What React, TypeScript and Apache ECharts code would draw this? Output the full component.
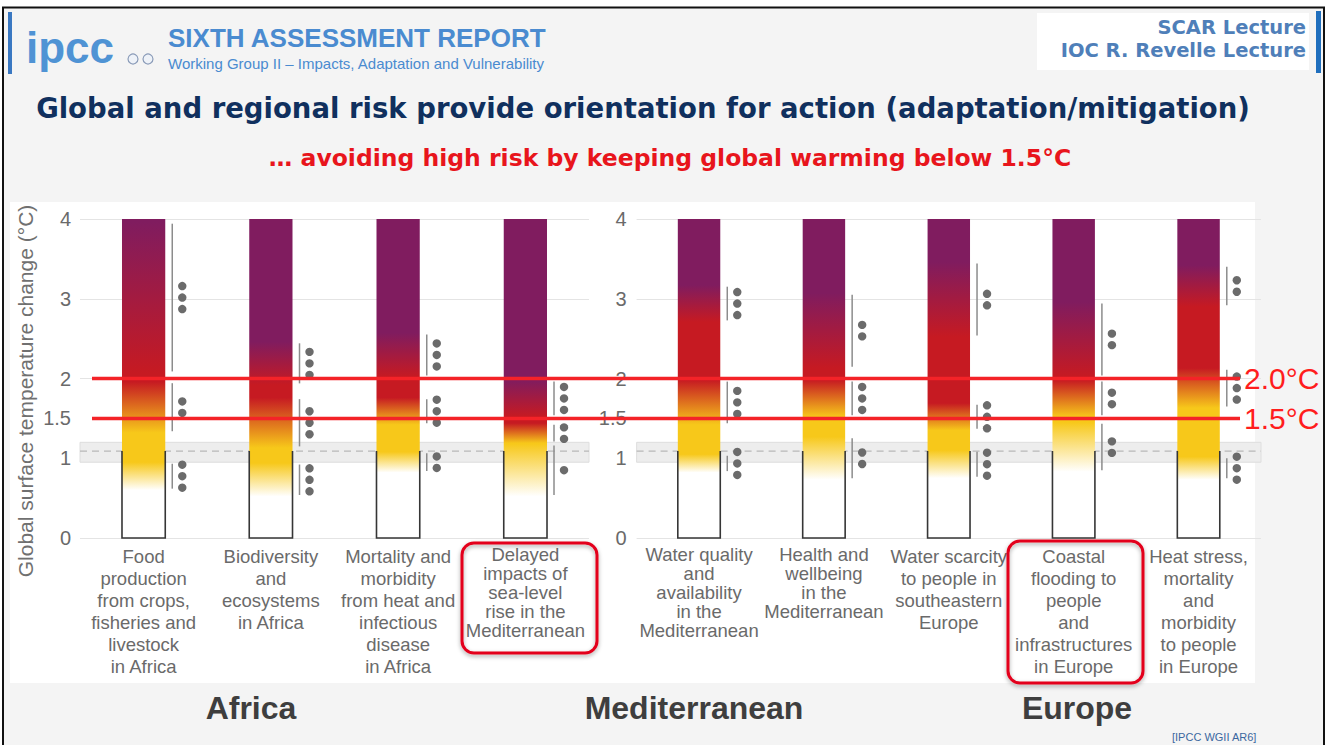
import React, { useEffect, useRef } from 'react';
import * as echarts from 'echarts';

// ---------- data ----------
const africaMedCategories = [
  'Food\nproduction\nfrom crops,\nfisheries and\nlivestock\nin Africa',
  'Biodiversity\nand\necosystems\nin Africa',
  'Mortality and\nmorbidity\nfrom heat and\ninfectious\ndisease\nin Africa',
  'Delayed\nimpacts of\nsea-level\nrise in the\nMediterranean',
];
const medEuropeCategories = [
  'Water quality\nand\navailability\nin the\nMediterranean',
  'Health and\nwellbeing\nin the\nMediterranean',
  'Water scarcity\nto people in\nsoutheastern\nEurope',
  'Coastal\nflooding to\npeople\nand\ninfrastructures\nin Europe',
  'Heat stress,\nmortality\nand\nmorbidity\nto people\nin Europe',
];
const compactLabelsLeft = [3];
const compactLabelsRight = [0, 1];

// ember transitions (°C) for the 9 key risks, in order: [start, end]
const moderateRange = [[0.6, 0.95], [0.52, 0.94], [0.82, 1.08], [0.52, 1.18], [0.82, 1.05], [0.73, 1.27], [0.75, 1.1], [0.83, 1.45], [0.73, 1.02]];
const highRange = [[1.32, 1.96], [1.13, 1.76], [1.42, 1.76], [1.19, 1.44], [1.42, 1.98], [1.52, 1.98], [1.35, 1.69], [1.52, 1.98], [1.63, 2.13]];
const veryHighRange = [[2.07, 3.96], [1.92, 2.46], [2.02, 2.57], [1.52, 1.98], [2.71, 3.17], [2.13, 3.07], [2.52, 3.46], [2.02, 2.96], [2.9, 3.42]];
// confidence dots for each transition: [moderate, high, very high]
const confidenceDots = [[3, 2, 3], [3, 3, 3], [2, 3, 3], [1, 2, 3], [3, 3, 3], [2, 3, 2], [3, 3, 2], [2, 2, 2], [3, 3, 2]];
const emberTop = 4;
const observedWarming = 1.09;
const observedRange = [0.95, 1.2];
const thresholds = [2.0, 1.5];
const thresholdLabels = ['2.0°C', '1.5°C'];
const yTickLabels = [0, 1, 1.5, 2, 3, 4];
const regionLabels = ['Africa', 'Mediterranean', 'Europe'];

// ---------- styles ----------
const PURPLE = '#801c5f';
const RED = '#c61a22';
const YELLOW = '#f7c81a';
const SANS = '"Liberation Sans", Arial, sans-serif';
const DEJAVU = '"DejaVu Sans", sans-serif';
const LABEL_GRAY = '#6a6a6a';

function emberData(offset: number, count: number) {
  const out: number[][] = [];
  for (let k = 0; k < count; k++) {
    const g = offset + k;
    out.push([
      k,
      moderateRange[g][0], moderateRange[g][1],
      highRange[g][0], highRange[g][1],
      veryHighRange[g][0], veryHighRange[g][1],
      emberTop,
      confidenceDots[g][0], confidenceDots[g][1], confidenceDots[g][2],
    ]);
  }
  return out;
}

function renderEmber(params: any, api: any) {
  const i = api.value(0);
  const m0 = api.value(1), m1 = api.value(2), h0 = api.value(3), h1 = api.value(4);
  const v0 = api.value(5), v1 = api.value(6), top = api.value(7);
  const conf = [api.value(8), api.value(9), api.value(10)];
  const xc = api.coord([i, 0])[0];
  const bw = api.size([1, 0])[0] * 0.34;
  const xl = xc - bw / 2;
  const xr = xc + bw / 2;
  const py = (v: number) => api.coord([i, v])[1];
  const yTop = py(top);
  const yBot = py(m0);
  const off = (v: number) => Math.min(1, Math.max(0, (top - v) / (top - m0)));
  const fill = new echarts.graphic.LinearGradient(0, 0, 0, 1, [
    { offset: 0, color: PURPLE },
    { offset: off(v1), color: PURPLE },
    { offset: off(v0), color: RED },
    { offset: off(h1), color: RED },
    { offset: off(h0), color: YELLOW },
    { offset: off(m1), color: YELLOW },
    { offset: 1, color: '#ffffff' },
  ]);
  const children: any[] = [
    { type: 'rect', shape: { x: xl, y: yTop, width: bw, height: yBot - yTop }, style: { fill } },
    {
      type: 'polyline',
      shape: { points: [[xl, py(observedWarming)], [xl, py(0)], [xr, py(0)], [xr, py(observedWarming)]] },
      style: { fill: 'none', stroke: '#363636', lineWidth: 1.6 },
    },
  ];
  const ranges = [[m0, m1], [h0, h1], [v0, v1]];
  const lx = xr + 7;
  ranges.forEach((r, k) => {
    children.push({
      type: 'line',
      shape: { x1: lx, y1: py(r[0]) - 1.5, x2: lx, y2: py(r[1]) + 1.5 },
      style: { stroke: '#8c8c8c', lineWidth: 1.5 },
    });
    const n = conf[k];
    const yc = py((r[0] + r[1]) / 2);
    for (let d = 0; d < n; d++) {
      children.push({
        type: 'circle',
        shape: { cx: lx + 10, cy: yc + (d - (n - 1) / 2) * 11.5, r: 4.2 },
        style: { fill: '#6b6b6b' },
      });
    }
  });
  return { type: 'group', children };
}

function renderBand(params: any, api: any) {
  const cs = params.coordSys;
  const yc = api.coord([0, api.value(1)])[1];
  const ylo = api.coord([0, api.value(2)])[1];
  const yhi = api.coord([0, api.value(3)])[1];
  return {
    type: 'group',
    children: [
      { type: 'rect', shape: { x: cs.x, y: yhi, width: cs.width, height: ylo - yhi }, style: { fill: '#ededed', stroke: '#dedede', lineWidth: 1 } },
      { type: 'line', shape: { x1: cs.x, y1: yc, x2: cs.x + cs.width, y2: yc }, style: { stroke: '#b8b8b8', lineWidth: 1.3, lineDash: [7, 5] } },
    ],
  };
}

function xAxisFor(gridIndex: number, data: string[], compact: number[]) {
  return {
    type: 'category',
    gridIndex,
    data,
    axisLine: { show: false },
    axisTick: { show: false },
    splitLine: { show: false },
    axisLabel: {
      interval: 0,
      margin: 7,
      color: LABEL_GRAY,
      fontFamily: SANS,
      fontSize: 18.5,
      lineHeight: 22,
      formatter: (value: string, index: number) => (compact.includes(index) ? `{t|${value}}` : value),
      rich: { t: { lineHeight: 19, fontSize: 18.5, fontFamily: SANS, color: LABEL_GRAY } },
    },
  };
}

function yAxisFor(gridIndex: number, margin: number) {
  return {
    type: 'value',
    gridIndex,
    min: 0,
    max: 4,
    interval: 0.5,
    axisLine: { show: false },
    axisTick: { show: false },
    axisLabel: {
      margin,
      color: LABEL_GRAY,
      fontFamily: SANS,
      fontSize: 20,
      formatter: (v: number) => (yTickLabels.includes(v) ? String(v) : ''),
    },
    splitLine: { show: true, lineStyle: { color: ['#e4e4e4', 'rgba(0,0,0,0)'], width: 1 } },
  };
}

export default function App() {
  const ref = useRef<HTMLDivElement>(null);

  useEffect(() => {
    if (!ref.current) return;
    const chart = echarts.init(ref.current, undefined, { renderer: 'svg' });

    const regionX = [251, 694, 1077];

    const option: any = {
      animation: false,
      backgroundColor: '#ffffff',
      grid: [
        { left: 80, top: 219, width: 509, height: 319 },
        { left: 636.6, top: 219, width: 624.4, height: 319 },
        { left: 92, top: 219, width: 1148, height: 319 },
      ],
      xAxis: [
        xAxisFor(0, africaMedCategories, compactLabelsLeft),
        xAxisFor(1, medEuropeCategories, compactLabelsRight),
        { type: 'value', gridIndex: 2, min: 0, max: 1, show: false },
      ],
      yAxis: [
        yAxisFor(0, 9),
        yAxisFor(1, 10),
        { type: 'value', gridIndex: 2, min: 0, max: 4, show: false },
      ],
      series: [
        {
          type: 'custom', xAxisIndex: 0, yAxisIndex: 0, z: 1, silent: true,
          renderItem: renderBand, data: [[0, observedWarming, observedRange[0], observedRange[1]]],
        },
        {
          type: 'custom', xAxisIndex: 0, yAxisIndex: 0, z: 3, silent: true,
          renderItem: renderEmber, data: emberData(0, africaMedCategories.length),
        },
        {
          type: 'custom', xAxisIndex: 1, yAxisIndex: 1, z: 1, silent: true,
          renderItem: renderBand, data: [[0, observedWarming, observedRange[0], observedRange[1]]],
        },
        {
          type: 'custom', xAxisIndex: 1, yAxisIndex: 1, z: 3, silent: true,
          renderItem: renderEmber, data: emberData(africaMedCategories.length, medEuropeCategories.length),
        },
        ...thresholds.map((t, k) => ({
          type: 'line',
          name: thresholdLabels[k],
          xAxisIndex: 2,
          yAxisIndex: 2,
          z: 10,
          silent: true,
          symbol: 'none',
          clip: false,
          data: [[0, t], [1, t]],
          lineStyle: { color: '#f42328', width: 3.5 },
          endLabel: { show: true, formatter: thresholdLabels[k], color: '#ff1d1d', fontSize: 30, fontFamily: SANS, distance: 4 },
        })),
      ],
      graphic: [
        { type: 'rect', z: -30, silent: true, shape: { x: 0, y: 0, width: 1328, height: 745 }, style: { fill: '#ffffff' } },
        { type: 'rect', z: -25, silent: true, shape: { x: 3, y: 7.5, width: 1321, height: 745 }, style: { fill: '#f4f4f4', stroke: '#111111', lineWidth: 2 } },
        { type: 'rect', z: -20, silent: true, shape: { x: 10, y: 202, width: 1245, height: 481 }, style: { fill: '#ffffff' } },
        // header
        { type: 'rect', z: 5, shape: { x: 8, y: 12, width: 4, height: 62 }, style: { fill: '#3a78c2' } },
        { type: 'text', z: 50, style: { text: 'ipcc', x: 26, y: 47, fill: '#4f93d4', font: 'bold 44px ' + SANS, align: 'left', verticalAlign: 'middle' } },
        { type: 'circle', z: 50, shape: { cx: 133, cy: 59, r: 5 }, style: { fill: '#eef2f8', stroke: '#8a9bb8', lineWidth: 1.2 } },
        { type: 'circle', z: 50, shape: { cx: 148, cy: 59, r: 5 }, style: { fill: '#eef2f8', stroke: '#8a9bb8', lineWidth: 1.2 } },
        { type: 'text', z: 50, style: { text: 'SIXTH ASSESSMENT REPORT', x: 168, y: 38, fill: '#4a8bd0', font: 'bold 26px ' + SANS, align: 'left', verticalAlign: 'middle' } },
        { type: 'text', z: 50, style: { text: 'Working Group II – Impacts, Adaptation and Vulnerability', x: 168, y: 63, fill: '#4a8bd0', font: '15px ' + SANS, align: 'left', verticalAlign: 'middle' } },
        { type: 'rect', z: 5, shape: { x: 1037, y: 13, width: 272, height: 57 }, style: { fill: '#ffffff' } },
        { type: 'rect', z: 5, shape: { x: 1316, y: 11, width: 5, height: 62 }, style: { fill: '#1f6ebd' } },
        { type: 'text', z: 50, style: { text: 'SCAR Lecture', x: 1306, y: 27, fill: '#4f7fb9', font: 'bold 19.5px ' + DEJAVU, align: 'right', verticalAlign: 'middle' } },
        { type: 'text', z: 50, style: { text: 'IOC R. Revelle Lecture', x: 1306, y: 50, fill: '#4f7fb9', font: 'bold 19.5px ' + DEJAVU, align: 'right', verticalAlign: 'middle' } },
        // titles
        { type: 'text', z: 50, style: { text: 'Global and regional risk provide orientation for action (adaptation/mitigation)', x: 643, y: 108, fill: '#10305e', font: 'bold 27.5px ' + DEJAVU, align: 'center', verticalAlign: 'middle' } },
        { type: 'text', z: 50, style: { text: '… avoiding high risk by keeping global warming below 1.5°C', x: 670, y: 158, fill: '#e8151c', font: 'bold 23.5px ' + DEJAVU, align: 'center', verticalAlign: 'middle' } },
        // y axis title
        { type: 'text', z: 50, rotation: Math.PI / 2, x: 25, y: 391, style: { text: 'Global surface temperature change (°C)', x: 0, y: 0, fill: '#707070', font: '21px ' + SANS, align: 'center', verticalAlign: 'middle' } },
        // highlight boxes
        { type: 'rect', z: 60, shape: { x: 462, y: 543, width: 135, height: 110, r: 12 }, style: { fill: 'none', stroke: '#e3001b', lineWidth: 3, shadowColor: 'rgba(0,0,0,0.35)', shadowBlur: 4, shadowOffsetY: 2 } },
        { type: 'rect', z: 60, shape: { x: 1008, y: 541, width: 135, height: 142, r: 12 }, style: { fill: 'none', stroke: '#e3001b', lineWidth: 3, shadowColor: 'rgba(0,0,0,0.35)', shadowBlur: 4, shadowOffsetY: 2 } },
        // region labels
        ...regionLabels.map((r, k) => ({
          type: 'text', z: 50,
          style: { text: r, x: regionX[k], y: 708, fill: '#3e3e3e', font: 'bold 32px ' + SANS, align: 'center', verticalAlign: 'middle' },
        })),
        { type: 'text', z: 50, style: { text: '[IPCC WGII AR6]', x: 1172, y: 737, fill: '#3b67a0', font: '11px ' + SANS, align: 'left', verticalAlign: 'middle' } },
      ],
    };

    chart.setOption(option);
    return () => chart.dispose();
  }, []);

  return <div ref={ref} style={{ position: 'fixed', left: 0, top: 0, width: 1328, height: 745 }} />;
}
